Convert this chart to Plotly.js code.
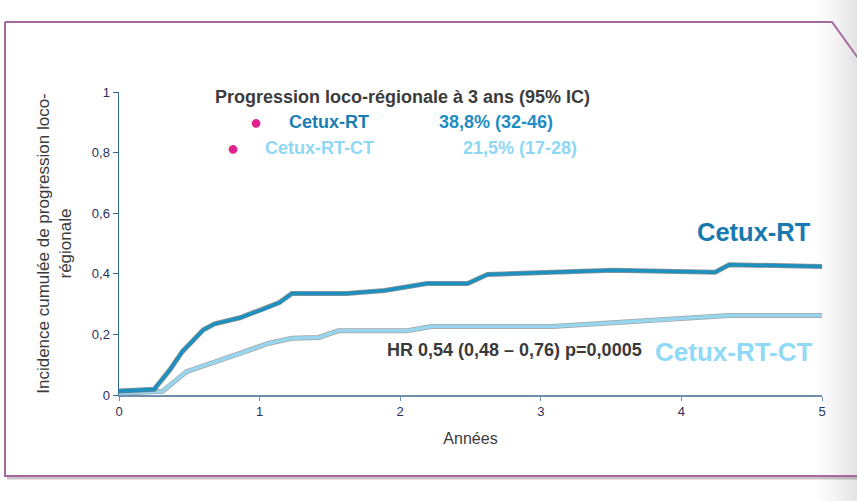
<!DOCTYPE html>
<html>
<head>
<meta charset="utf-8">
<script src="https://cdn.plot.ly/plotly-3.0.1.min.js"></script>
<style>
html,body{margin:0;padding:0;}
body{width:857px;height:501px;overflow:hidden;background:linear-gradient(to right,#ffffff 0px,#ffffff 815px,#f4f4f4 835px,#e2e2e2 857px);}
#chart{width:857px;height:501px;}
</style>
</head>
<body>
<div id="chart"></div>
<script>
// Data
const yearsRT   = [0, 0.25, 0.36, 0.45, 0.60, 0.68, 0.86, 1.01, 1.14, 1.23, 1.62, 1.89, 2.19, 2.48, 2.62, 3.51, 4.24, 4.34, 5.0];
const incRT     = [0.013, 0.019, 0.082, 0.143, 0.215, 0.235, 0.255, 0.28, 0.305, 0.335, 0.335, 0.345, 0.368, 0.368, 0.398, 0.412, 0.405, 0.43, 0.424];
const yearsRTCT = [0, 0.31, 0.48, 0.70, 0.86, 1.06, 1.23, 1.42, 1.56, 2.05, 2.22, 3.08, 4.34, 5.0];
const incRTCT   = [0.006, 0.012, 0.077, 0.11, 0.137, 0.17, 0.187, 0.19, 0.212, 0.212, 0.226, 0.226, 0.262, 0.262];
const yTickVals = [0, 0.2, 0.4, 0.6, 0.8, 1];
const yTickText = ['0', '0,2', '0,4', '0,6', '0,8', '1'];
const xTickVals = [0, 1, 2, 3, 4, 5];
const xTickText = ['0', '1', '2', '3', '4', '5'];
const seriesNames = ['Cetux-RT', 'Cetux-RT-CT'];
const rates = ['38,8% (32-46)', '21,5% (17-28)'];

const darkBlue = '#1c90bf';
const lightBlue = '#97d6ee';
const font = 'Arial, "Liberation Sans", sans-serif';

const traces = [
  {x: yearsRTCT, y: incRTCT, mode: 'lines', line: {color: 'rgba(90,90,90,0.55)', width: 5}, hoverinfo: 'skip', showlegend: false},
  {x: yearsRTCT, y: incRTCT, mode: 'lines', name: seriesNames[1], line: {color: lightBlue, width: 3.5}, showlegend: false},
  {x: yearsRT, y: incRT, mode: 'lines', line: {color: 'rgba(60,60,60,0.55)', width: 5}, hoverinfo: 'skip', showlegend: false},
  {x: yearsRT, y: incRT, mode: 'lines', name: seriesNames[0], line: {color: darkBlue, width: 3.5}, showlegend: false}
];

// helpers to convert page pixels to paper coordinates (plot area 119..822 x 92..395)
const L = 119, R = 822, T = 92, B = 395;
const px = p => (p - L) / (R - L);
const py = p => (B - p) / (B - T);

const ann = [
  {text: '<b>Progression loco-régionale à 3 ans (95% IC)</b>', x: px(213), y: py(97), xanchor: 'left', font: {size: 18, color: '#3c3c3c'}},
  {text: '●', x: px(248), y: py(122), font: {size: 20, color: '#e0208c'}},
  {text: '●', x: px(225), y: py(148), font: {size: 20, color: '#e0208c'}},
  {text: '<b>' + seriesNames[0] + '</b>', x: px(287), y: py(122), xanchor: 'left', font: {size: 18, color: '#1a7db4'}},
  {text: '<b>' + rates[0] + '</b>', x: px(437), y: py(122), xanchor: 'left', font: {size: 18, color: '#1f8cc2'}},
  {text: '<b>' + seriesNames[1] + '</b>', x: px(263), y: py(148), xanchor: 'left', font: {size: 18, color: '#8ed8f6'}},
  {text: '<b>' + rates[1] + '</b>', x: px(461), y: py(148), xanchor: 'left', font: {size: 18, color: '#8ed8f6'}},
  {text: '<b>' + seriesNames[0] + '</b>', x: px(695), y: py(232), xanchor: 'left', font: {size: 25.5, color: '#1a78b0'}},
  {text: '<b>' + seriesNames[1] + '</b>', x: px(653), y: py(352), xanchor: 'left', font: {size: 26, color: '#90d9f7'}},
  {text: '<b>HR 0,54 (0,48 – 0,76) p=0,0005</b>', x: px(385), y: py(350), xanchor: 'left', font: {size: 18, color: '#3a3a3a'}}
].map(a => Object.assign({xref: 'paper', yref: 'paper', showarrow: false, yanchor: 'middle', font: a.font}, a));

const framePath = 'M ' + px(5) + ' ' + py(22) + ' L ' + px(832) + ' ' + py(22) + ' L ' + px(858) + ' ' + py(58) +
  ' M ' + px(5) + ' ' + py(22) + ' L ' + px(5) + ' ' + py(476) + ' L ' + px(860) + ' ' + py(476);
const shadowPath = 'M ' + px(7) + ' ' + py(478) + ' L ' + px(860) + ' ' + py(478);

const layout = {
  width: 857, height: 501,
  margin: {l: L, r: 857 - R, t: T, b: 501 - B},
  paper_bgcolor: 'rgba(0,0,0,0)',
  plot_bgcolor: 'rgba(0,0,0,0)',
  font: {family: font, color: '#2b2f5c', size: 12},
  separators: ', ',
  xaxis: {
    range: [0, 5], showgrid: false, zeroline: false,
    showline: true, linecolor: '#6f8fae', linewidth: 1.5,
    ticks: 'outside', ticklen: 4, tickcolor: '#6f8fae',
    tickvals: xTickVals, ticktext: xTickText,
    tickfont: {size: 13, color: '#2b2f5c'},
    title: {text: 'Années', font: {size: 16, color: '#3a3a3a'}, standoff: 14}
  },
  yaxis: {
    range: [0, 1], showgrid: false, zeroline: false,
    showline: true, linecolor: '#2f6a99', linewidth: 1.5,
    ticks: 'outside', ticklen: 5, tickcolor: '#2f6a99',
    tickvals: yTickVals, ticktext: yTickText,
    tickfont: {size: 13, color: '#2b2f5c'},
    title: {text: 'Incidence cumulée de progression loco-<br>régionale', font: {size: 17, color: '#3a3a3a'}, standoff: 16}
  },
  annotations: ann,
  shapes: [
    {type: 'path', xref: 'paper', yref: 'paper', path: shadowPath, line: {color: 'rgba(110,80,110,0.35)', width: 3}},
    {type: 'path', xref: 'paper', yref: 'paper', path: framePath, line: {color: '#a46aa0', width: 2}}
  ],
  showlegend: false
};

Plotly.newPlot('chart', traces, layout, {displayModeBar: false, staticPlot: true});
</script>
</body>
</html>
